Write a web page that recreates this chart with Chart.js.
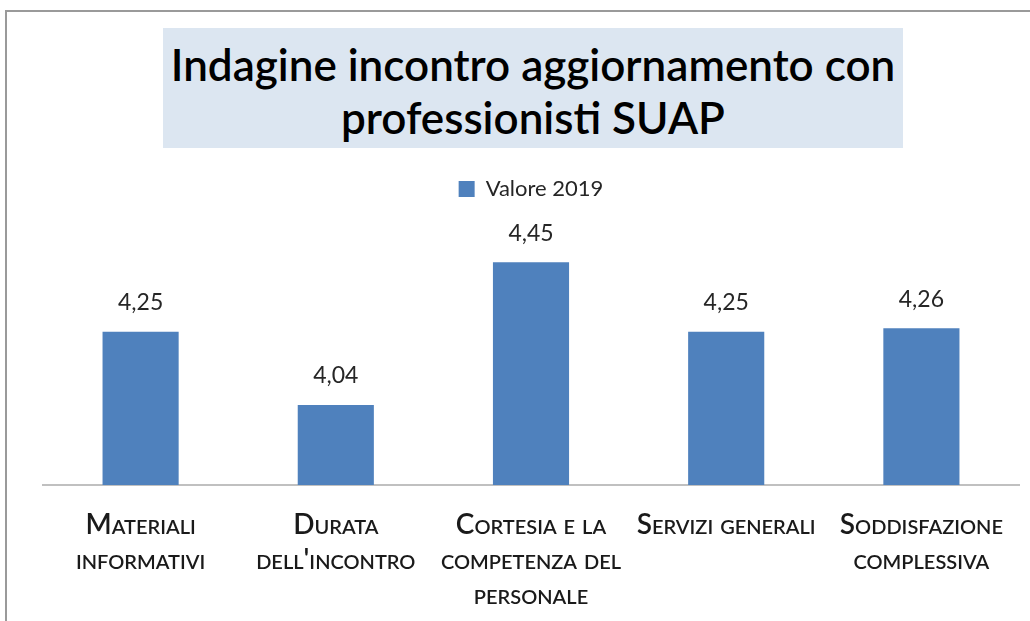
<!DOCTYPE html>
<html>
<head>
<meta charset="utf-8">
<script src="https://cdn.jsdelivr.net/npm/chart.js@4"></script>
<style>
  html, body { margin: 0; padding: 0; background: #fff; }
  #wrap { position: relative; width: 1030px; height: 621px; overflow: hidden; }
  #frame { position: absolute; left: 5px; top: 10px; width: 1100px; height: 700px;
           border-left: 2px solid #9a9a9a; border-top: 2px solid #9a9a9a; }
  #title { position: absolute; left: 163px; top: 28px; width: 740px; height: 120px;
           box-sizing: border-box; padding-top: 6px;
           background: #dce6f1; font-family: Lato, sans-serif; font-weight: 600;
           font-size: 44px; line-height: 53px; color: #000; text-align: center;
           display: flex; align-items: center; justify-content: center; }
  canvas { position: absolute; left: 0; top: 0; }
</style>
</head>
<body>
<div id="wrap">
  <div id="frame"></div>
  <div id="title">Indagine incontro aggiornamento con<br>professionisti SUAP</div>
  <canvas id="myChart" width="1030" height="621"></canvas>
</div>
<script>
var categories = [
  ['Materiali', 'informativi'],
  ['Durata', "dell'incontro"],
  ['Cortesia e la', 'competenza del', 'personale'],
  ['Servizi generali'],
  ['Soddisfazione', 'complessiva']
];
var seriesName = 'Valore 2019';
var values2019 = [4.25, 4.04, 4.45, 4.25, 4.26];

var ctx = document.getElementById('myChart').getContext('2d');

var barLabels = {
  id: 'barLabels',
  afterDatasetsDraw: function(chart) {
    var c = chart.ctx;
    var meta = chart.getDatasetMeta(0);
    c.save();
    c.font = '23px Lato, sans-serif';
    c.fillStyle = '#262626';
    c.textAlign = 'center';
    c.textBaseline = 'middle';
    meta.data.forEach(function(bar, i) {
      var v = chart.data.datasets[0].data[i];
      c.fillText(v.toFixed(2).replace('.', ','), bar.x, bar.y - 29);
    });
    c.restore();
  }
};

new Chart(ctx, {
  type: 'bar',
  data: {
    labels: categories,
    datasets: [{
      label: seriesName,
      data: values2019,
      backgroundColor: '#4f81bd',
      borderWidth: 0,
      categoryPercentage: 1,
      barPercentage: 0.39
    }]
  },
  options: {
    responsive: false,
    animation: false,
    layout: { padding: { top: 168, left: 43, right: 11, bottom: 0 } },
    plugins: {
      title: { display: false },
      tooltip: { enabled: false },
      legend: {
        display: true,
        labels: {
          boxWidth: 16,
          boxHeight: 16,
          color: '#262626',
          font: { family: 'Lato, sans-serif', size: 22 }
        }
      }
    },
    scales: {
      y: {
        display: false,
        min: 3.81,
        max: 4.6
      },
      x: {
        grid: { display: false },
        border: { display: true, color: '#c0c0c0', width: 2 },
        ticks: {
          color: '#1a1a1a',
          maxRotation: 0,
          autoSkip: false,
          padding: 14,
          font: { family: 'Lato, sans-serif', size: 28, weight: 'small-caps 600', lineHeight: 1.25 }
        },
        afterFit: function(scale) { scale.height = 136; }
      }
    }
  },
  plugins: [barLabels]
});
</script>
</body>
</html>
